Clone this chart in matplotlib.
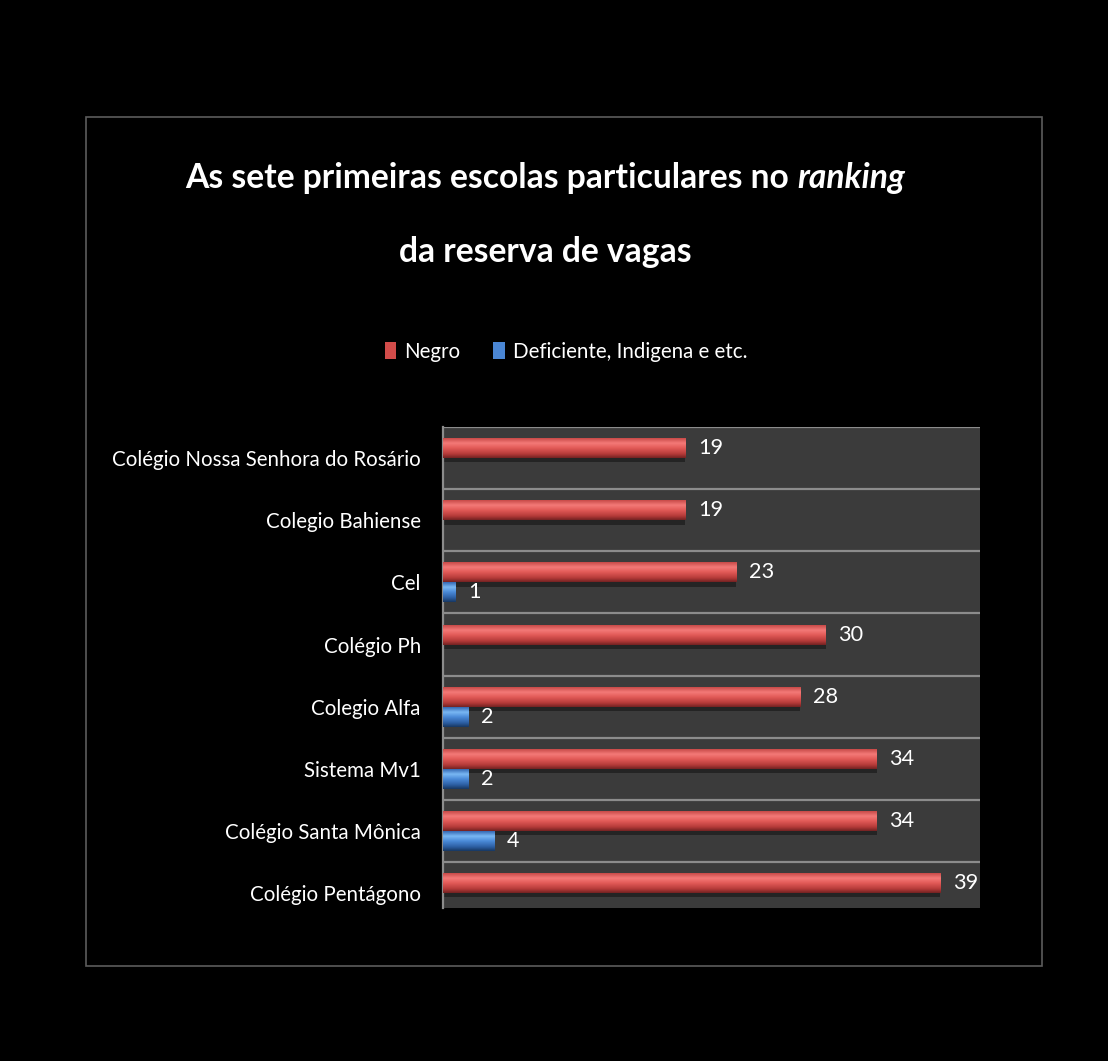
import matplotlib
matplotlib.use("Agg")
import matplotlib.pyplot as plt
import numpy as np
from matplotlib.patches import Rectangle
from matplotlib.colors import LinearSegmentedColormap

categories = ["Colégio Nossa Senhora do Rosário", "Colegio Bahiense", "Cel", "Colégio Ph",
              "Colegio Alfa", "Sistema Mv1", "Colégio Santa Mônica", "Colégio Pentágono"]
negro = [19, 19, 23, 30, 28, 34, 34, 39]
deficiente = [0, 0, 1, 0, 2, 2, 4, 0]
series_names = ["Negro", "Deficiente, Indigena e etc."]
title_line1_a = "As sete primeiras escolas particulares no "
title_line1_b = "ranking"
title_line2 = "da reserva de vagas"

FONT = ["Lato", "DejaVu Sans"]
plt.rcParams["font.family"] = FONT

W, H = 1108, 1061
fig = plt.figure(figsize=(W / 100, H / 100), dpi=100, facecolor="black")
fig.canvas.draw()
rend = fig.canvas.get_renderer()


def fx(px):
    return px / W


def fy(py):
    return 1 - py / H


def fit_size(text, target_px, weight="normal", style="normal"):
    t = fig.text(0, 0, text, fontsize=20, fontweight=weight, fontstyle=style)
    w = t.get_window_extent(rend).width
    t.remove()
    return 20 * target_px / w


# outer frame
fig.add_artist(Rectangle((fx(86), fy(966)), fx(1042) - fx(86), fy(117) - fy(966),
                         transform=fig.transFigure, fill=False, edgecolor="#5c5c5c", lw=1.2))

ax = fig.add_axes([fx(443), fy(908), fx(980) - fx(443), fy(427) - fy(908)])
ax.set_facecolor("#3b3b3b")

y = np.arange(len(categories))
bh = 0.32
# soft shadow beneath the red bars
ax.barh(y + 0.035, negro, height=0.07, color="#242424", zorder=2.5)
red = ax.barh(y - bh / 2, negro, height=bh, color="#d24c4a", zorder=3)
blue = ax.barh(y + bh / 2, deficiente, height=bh, color="#4a86d4", zorder=3)

red_cmap = LinearSegmentedColormap.from_list("r", [(0, "#c84a48"), (0.25, "#f47a78"), (0.5, "#e25a57"),
                                                   (0.8, "#b53b39"), (1, "#742222")])
blue_cmap = LinearSegmentedColormap.from_list("b", [(0, "#3468b2"), (0.25, "#7ab8f4"), (0.5, "#4a8ad8"),
                                                    (0.8, "#2c5ea2"), (1, "#183862")])
grad = np.linspace(0, 1, 64).reshape(-1, 1)
for cont, cmap in ((red, red_cmap), (blue, blue_cmap)):
    for r in cont:
        w = r.get_width()
        if w <= 0:
            continue
        x0, y0, h = r.get_x(), r.get_y(), r.get_height()
        im = ax.imshow(grad, cmap=cmap, aspect="auto", extent=(x0, x0 + w, y0 + h, y0),
                       origin="upper", zorder=4, interpolation="bilinear")
        im.set_clip_path(r)

lbl_size = fit_size("39", 25)
for cont, vals in ((red, negro), (blue, deficiente)):
    ax.bar_label(cont, labels=[str(v) if v else "" for v in vals], padding=9,
                 color="white", fontsize=lbl_size, zorder=5)

for b in np.arange(-0.5, len(categories) - 0.5, 1.0):
    ax.axhline(b, color="#8c8c8c", lw=1.6, zorder=2)

cat_size = fit_size(categories[0], 310)
ax.set_xlim(0, 42.1)
ax.set_ylim(7.24, -0.5)
ax.set_yticks(y)
ax.set_yticklabels(categories, color="white", fontsize=cat_size)
ax.tick_params(axis="y", length=0, pad=16)
ax.set_xticks([])
for s in ("top", "right", "bottom"):
    ax.spines[s].set_visible(False)
ax.spines["left"].set_color("#8c8c8c")
ax.spines["left"].set_linewidth(1.6)

# legend
leg_size = fit_size(series_names[1], 236)
leg = fig.legend([red, blue], series_names, loc="center", bbox_to_anchor=(fx(566), fy(352)),
                 ncol=2, frameon=False, fontsize=leg_size, labelcolor="white",
                 handlelength=0.55, handleheight=0.9, handletextpad=0.4, columnspacing=1.6)

# title with italic part, centered
tsize = fit_size(title_line1_a + title_line1_b, 724, weight="bold")
t1 = fig.text(0, fy(188), title_line1_a, color="white", fontsize=tsize, fontweight="bold",
              ha="left", va="baseline")
t2 = fig.text(0, fy(188), title_line1_b, color="white", fontsize=tsize, fontweight="bold",
              fontstyle="italic", ha="left", va="baseline")
w1 = t1.get_window_extent(rend).width
w2 = t2.get_window_extent(rend).width
start = 545 - (w1 + w2) / 2
t1.set_x(fx(start))
t2.set_x(fx(start + w1))
fig.text(fx(545), fy(262), title_line2, color="white", fontsize=tsize, fontweight="bold",
         ha="center", va="baseline")

fig.savefig("out.png", dpi=100, facecolor="black")
